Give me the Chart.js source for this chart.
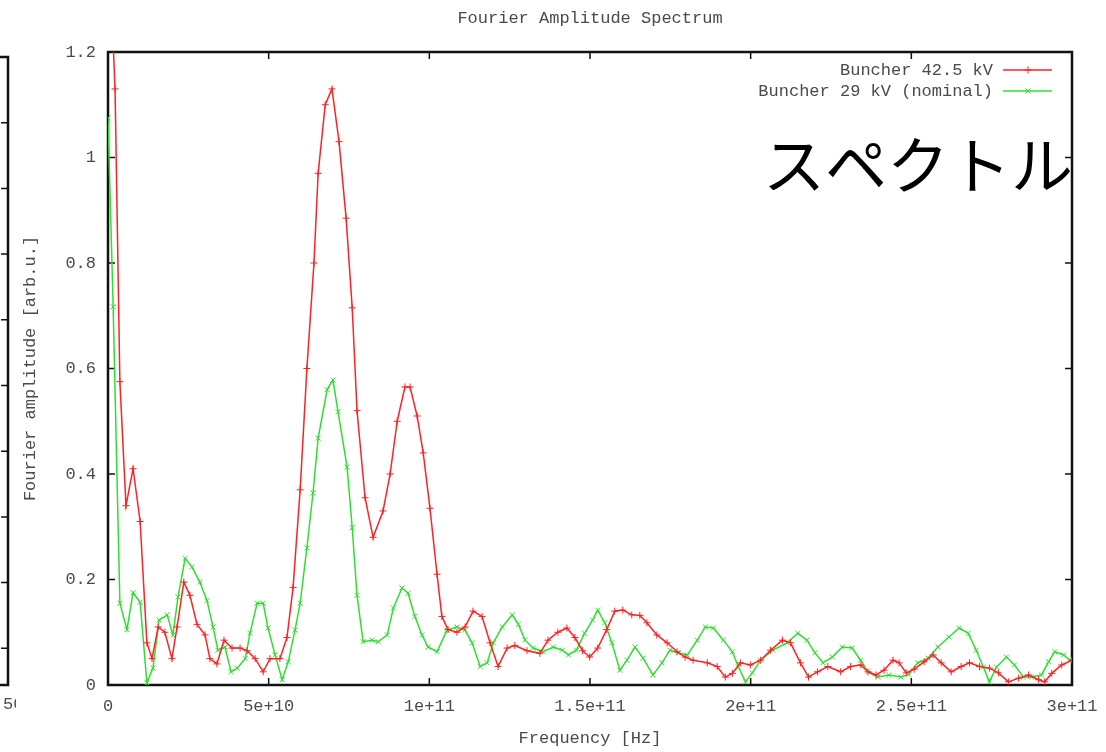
<!DOCTYPE html>
<html>
<head>
<meta charset="utf-8">
<title>Fourier Amplitude Spectrum</title>
<script src="https://cdn.jsdelivr.net/npm/chart.js@4.4.1/dist/chart.umd.min.js"></script>
<style>
  html, body { margin: 0; padding: 0; background: #fff; }
</style>
</head>
<body>
<canvas id="spectrum" width="1106" height="752"></canvas>
<script>
    "use strict";

    // frequencies in GHz, amplitudes in arb.u.
    var freqHigh = [0, 2.2, 3.7, 5.6, 7.8, 10.0, 12.1, 13.7, 15.6, 17.7,
        19.9, 21.5, 23.6, 25.5, 27.7, 30.2, 31.7, 33.9, 36.1, 38.6,
        41.1, 43.3, 45.8, 48.3, 50.4, 53.5, 55.7, 57.6, 59.8, 61.9,
        64.1, 65.4, 67.6, 69.7, 71.9, 74.1, 76.0, 77.5, 80.0, 82.5,
        85.6, 87.8, 90.0, 92.4, 94.0, 96.2, 98.1, 100.2, 102.4, 103.9,
        105.8, 108.6, 111.1, 113.6, 116.4, 118.9, 121.4, 124.2, 126.6, 130.4,
        134.4, 136.9, 140.0, 142.8, 145.3, 147.7, 149.9, 152.4, 155.2, 157.7,
        160.2, 163.0, 165.5, 167.7, 170.8, 174.0, 177.1, 179.6, 182.1, 186.5,
        189.6, 192.1, 194.3, 196.8, 199.9, 203.1, 206.2, 209.9, 212.4, 215.5,
        218.0, 220.8, 224.0, 228.0, 231.1, 234.3, 236.5, 239.0, 241.5, 244.3,
        246.2, 248.4, 250.9, 254.0, 256.8, 259.3, 262.4, 265.5, 268.1, 271.2,
        274.3, 277.1, 280.2, 283.4, 286.5, 289.6, 291.5, 293.7, 296.8, 300.0];

    var ampHigh = [1.45, 1.13, 0.575, 0.34, 0.41, 0.31, 0.08, 0.05, 0.11, 0.10,
        0.05, 0.11, 0.195, 0.17, 0.115, 0.095, 0.05, 0.04, 0.085, 0.07,
        0.07, 0.065, 0.05, 0.025, 0.05, 0.05, 0.09, 0.185, 0.37, 0.60,
        0.80, 0.97, 1.10, 1.13, 1.03, 0.885, 0.715, 0.52, 0.355, 0.28,
        0.33, 0.40, 0.50, 0.565, 0.565, 0.51, 0.44, 0.335, 0.21, 0.13,
        0.105, 0.10, 0.11, 0.14, 0.13, 0.08, 0.035, 0.07, 0.075, 0.065,
        0.06, 0.085, 0.10, 0.108, 0.09, 0.065, 0.053, 0.07, 0.105, 0.14,
        0.142, 0.133, 0.132, 0.118, 0.095, 0.08, 0.063, 0.053, 0.047, 0.042,
        0.035, 0.015, 0.022, 0.042, 0.038, 0.047, 0.066, 0.085, 0.08, 0.042,
        0.015, 0.025, 0.035, 0.025, 0.035, 0.038, 0.025, 0.019, 0.028, 0.047,
        0.042, 0.023, 0.03, 0.044, 0.057, 0.042, 0.025, 0.035, 0.042, 0.035,
        0.032, 0.023, 0.006, 0.013, 0.019, 0.01, 0.006, 0.022, 0.038, 0.047];

    var freqNominal = [0, 1.6, 3.7, 5.9, 7.8, 10.0, 12.1, 14.0, 15.9, 18.4,
        20.2, 21.8, 24.0, 26.1, 28.6, 30.8, 32.7, 34.2, 36.4, 38.3,
        40.2, 42.7, 44.2, 46.4, 48.3, 49.8, 52.0, 54.2, 56.1, 58.2,
        59.8, 61.9, 63.8, 65.4, 68.2, 70.0, 71.6, 74.4, 76.0, 77.5,
        79.4, 82.2, 84.1, 86.9, 88.8, 91.5, 93.4, 95.5, 97.7, 99.6,
        102.4, 105.5, 108.6, 111.1, 113.3, 115.8, 118.0, 119.9, 122.7, 125.8,
        127.7, 129.8, 132.3, 135.4, 138.6, 141.4, 143.3, 145.8, 148.3, 150.8,
        152.4, 154.6, 156.8, 159.3, 161.5, 164.0, 166.5, 169.6, 172.4, 174.9,
        177.4, 180.3, 183.4, 185.9, 188.4, 191.5, 194.3, 196.2, 198.4, 200.5,
        203.1, 206.9, 211.3, 214.7, 217.5, 220.0, 222.5, 225.4, 228.5, 231.6,
        234.2, 236.5, 239.6, 243.0, 246.8, 249.2, 252.0, 255.2, 258.3, 261.7,
        264.9, 267.7, 270.2, 272.4, 274.3, 276.5, 279.6, 282.1, 284.9, 287.4,
        290.5, 292.7, 294.6, 297.4, 299.3];

    var ampNominal = [1.075, 0.717, 0.155, 0.105, 0.175, 0.157, 0.004, 0.032, 0.123, 0.133,
        0.095, 0.167, 0.24, 0.224, 0.195, 0.16, 0.11, 0.066, 0.072, 0.025,
        0.032, 0.05, 0.098, 0.155, 0.155, 0.108, 0.057, 0.01, 0.044, 0.104,
        0.155, 0.26, 0.364, 0.468, 0.56, 0.578, 0.518, 0.413, 0.298, 0.17,
        0.082, 0.085, 0.082, 0.095, 0.146, 0.184, 0.174, 0.13, 0.095, 0.072,
        0.063, 0.104, 0.11, 0.104, 0.08, 0.035, 0.042, 0.08, 0.11, 0.133,
        0.115, 0.085, 0.07, 0.063, 0.072, 0.066, 0.057, 0.066, 0.098, 0.123,
        0.142, 0.118, 0.08, 0.028, 0.047, 0.072, 0.051, 0.019, 0.042, 0.066,
        0.061, 0.057, 0.085, 0.11, 0.108, 0.085, 0.063, 0.034, 0.006, 0.023,
        0.047, 0.066, 0.08, 0.098, 0.085, 0.061, 0.042, 0.053, 0.072, 0.07,
        0.047, 0.025, 0.015, 0.019, 0.015, 0.02, 0.042, 0.051, 0.072, 0.091,
        0.108, 0.098, 0.066, 0.034, 0.006, 0.034, 0.053, 0.038, 0.015, 0.015,
        0.019, 0.044, 0.063, 0.057, 0.047];

    var seriesLabels = ['Buncher 42.5 kV', 'Buncher 29 kV (nominal)'];
    var xTickLabels = ['0', '5e+10', '1e+11', '1.5e+11', '2e+11', '2.5e+11', '3e+11'];
    var yTickLabels = ['0', '0.2', '0.4', '0.6', '0.8', '1', '1.2'];
    var plotTitle = 'Fourier Amplitude Spectrum';

    var monoFont = "'Liberation Mono', 'DejaVu Sans Mono', monospace";
    var textGray = '#4a4a4a';

    var toPoints = function (freqs, amps) {
        return freqs.map(function (f, i) {
            return { x: f * 1e9, y: amps[i] };
        });
    };

    // gnuplot style frame: border + inward ticks on all four sides
    var frameTicks = {
        id: 'frameTicks',
        beforeDatasetsDraw: function (chart) {
            var ctx = chart.ctx, a = chart.chartArea;
            var xs = chart.scales.x, ys = chart.scales.y;
            ctx.save();
            ctx.strokeStyle = '#111';
            ctx.lineWidth = 1.5;
            ctx.beginPath();
            xs.ticks.forEach(function (t) {
                var px = xs.getPixelForValue(t.value);
                ctx.moveTo(px, a.bottom); ctx.lineTo(px, a.bottom - 7);
                ctx.moveTo(px, a.top); ctx.lineTo(px, a.top + 7);
            });
            ys.ticks.forEach(function (t) {
                var py = ys.getPixelForValue(t.value);
                ctx.moveTo(a.left, py); ctx.lineTo(a.left + 7, py);
                ctx.moveTo(a.right, py); ctx.lineTo(a.right - 7, py);
            });
            ctx.stroke();
            ctx.lineWidth = 2.5;
            ctx.strokeRect(a.left, a.top, a.right - a.left, a.bottom - a.top);
            ctx.restore();

            // title centred over the plot area, like gnuplot does
            ctx.save();
            ctx.fillStyle = textGray;
            ctx.font = '17px ' + monoFont;
            ctx.textAlign = 'center';
            ctx.textBaseline = 'middle';
            ctx.fillText(plotTitle, (a.left + a.right) / 2, 18);
            ctx.restore();
        }
    };

    // key in the top right corner, text right aligned before the sample line
    var gnuKey = {
        id: 'gnuKey',
        afterDatasetsDraw: function (chart) {
            var ctx = chart.ctx, a = chart.chartArea;
            ctx.save();
            ctx.font = '17px ' + monoFont;
            ctx.textAlign = 'right';
            ctx.textBaseline = 'middle';
            chart.data.datasets.forEach(function (ds, i) {
                var y = a.top + 18 + i * 21;
                ctx.fillStyle = textGray;
                ctx.fillText(ds.label, a.right - 79, y);
                ctx.strokeStyle = ds.borderColor;
                ctx.lineWidth = ds.borderWidth;
                ctx.beginPath();
                ctx.moveTo(a.right - 69, y);
                ctx.lineTo(a.right - 20, y);
                ctx.stroke();
                ctx.lineWidth = 1;
                Chart.helpers.drawPoint(ctx, {
                    pointStyle: ds.pointStyle,
                    radius: ds.pointRadius,
                    borderWidth: 1,
                    rotation: 0
                }, a.right - 44, y);
            });
            ctx.restore();
        }
    };

    // edge of the neighbouring plot + the big katakana label
    var extras = {
        id: 'extras',
        afterDraw: function (chart) {
            var ctx = chart.ctx;
            ctx.save();
            ctx.strokeStyle = '#111';
            ctx.lineWidth = 2.5;
            ctx.beginPath();
            ctx.moveTo(0, 57); ctx.lineTo(8, 57); ctx.lineTo(8, 685); ctx.lineTo(0, 685);
            ctx.stroke();
            ctx.lineWidth = 1.5;
            ctx.beginPath();
            for (var k = 1; k < 10; k++) {
                var ty = 57 + k * 65.7;
                ctx.moveTo(8, ty); ctx.lineTo(1, ty);
            }
            ctx.stroke();
            ctx.beginPath();
            ctx.rect(0, 690, 16, 30);
            ctx.clip();
            ctx.fillStyle = textGray;
            ctx.font = '17px ' + monoFont;
            ctx.textBaseline = 'middle';
            ctx.fillText('50', 3, 704);
            ctx.restore();

            ctx.save();
            ctx.fillStyle = '#000';
            ctx.font = "62px 'Noto Sans CJK JP'";
            ctx.textBaseline = 'middle';
            ctx.fillText('スペクトル', 763, 165);
            ctx.restore();
        }
    };

    new Chart(document.getElementById('spectrum'), {
        type: 'line',
        data: {
            datasets: [{
                label: seriesLabels[0],
                data: toPoints(freqHigh, ampHigh),
                borderColor: '#ff2222',
                backgroundColor: '#ff2222',
                borderWidth: 1.5,
                pointStyle: 'cross',
                pointRadius: 3.5,
                pointBorderWidth: 1,
                tension: 0
            }, {
                label: seriesLabels[1],
                data: toPoints(freqNominal, ampNominal),
                borderColor: '#2ee02e',
                backgroundColor: '#2ee02e',
                borderWidth: 1.5,
                pointStyle: 'crossRot',
                pointRadius: 3.5,
                pointBorderWidth: 1,
                tension: 0
            }]
        },
        options: {
            responsive: false,
            animation: false,
            devicePixelRatio: 1,
            layout: { padding: { left: 0, right: 34, top: 52, bottom: 0 } },
            plugins: {
                legend: { display: false },
                tooltip: { enabled: false },
                title: { display: false }
            },
            scales: {
                x: {
                    type: 'linear',
                    min: 0,
                    max: 3e11,
                    afterFit: function (s) {
                        s.height = 67;
                        s.paddingLeft = 0;
                        s.paddingRight = 0;
                    },
                    grid: { display: false, drawTicks: false },
                    border: { display: false },
                    ticks: {
                        stepSize: 5e10,
                        padding: 11,
                        maxRotation: 0,
                        color: textGray,
                        font: { family: monoFont, size: 17 },
                        callback: function (v) { return xTickLabels[Math.round(v / 5e10)]; }
                    },
                    title: {
                        display: true,
                        text: 'Frequency [Hz]',
                        color: textGray,
                        font: { family: monoFont, size: 17 },
                        padding: { top: 0, bottom: 3 }
                    }
                },
                y: {
                    min: 0,
                    max: 1.2,
                    afterFit: function (s) {
                        s.width = 108;
                        s.paddingTop = 0;
                        s.paddingBottom = 0;
                    },
                    grid: { display: false, drawTicks: false },
                    border: { display: false },
                    ticks: {
                        stepSize: 0.2,
                        padding: 12,
                        color: textGray,
                        font: { family: monoFont, size: 17 },
                        callback: function (v) { return yTickLabels[Math.round(v / 0.2)]; }
                    },
                    title: {
                        display: true,
                        text: 'Fourier amplitude [arb.u.]',
                        color: textGray,
                        font: { family: monoFont, size: 17 },
                        padding: { top: 19.8, bottom: 0 }
                    }
                }
            }
        },
        plugins: [frameTicks, gnuKey, extras]
    });
</script>
</body>
</html>
